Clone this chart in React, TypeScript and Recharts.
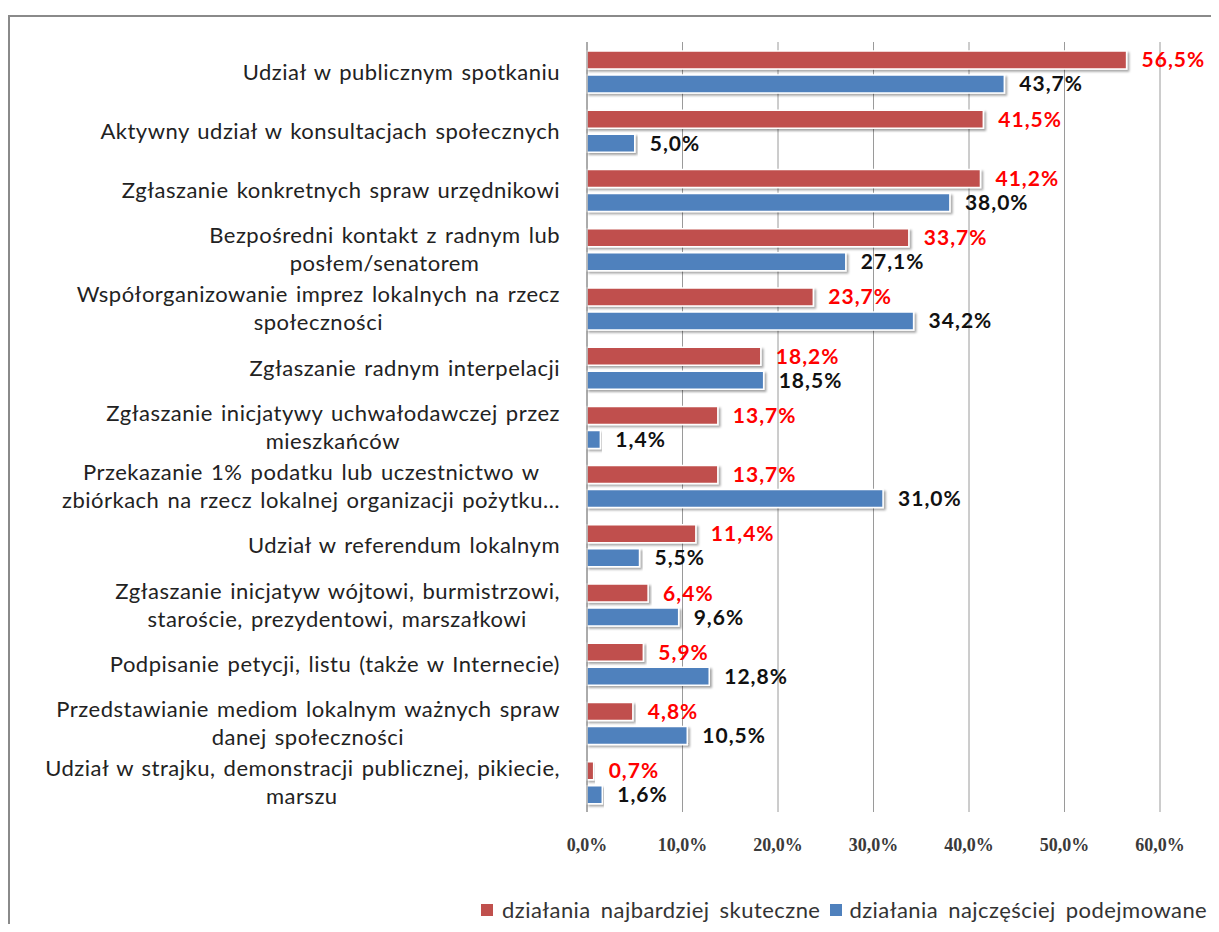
import React from 'react';
import { BarChart, Bar, XAxis, YAxis, CartesianGrid, LabelList } from 'recharts';

// categories, top to bottom ("\n" marks the wrapped line)
const categories = [
  'Udział w publicznym spotkaniu',
  'Aktywny udział w konsultacjach społecznych',
  'Zgłaszanie konkretnych spraw urzędnikowi',
  'Bezpośredni kontakt z radnym lub\nposłem/senatorem',
  'Współorganizowanie imprez lokalnych na rzecz\nspołeczności',
  'Zgłaszanie radnym interpelacji',
  'Zgłaszanie inicjatywy uchwałodawczej przez\nmieszkańców',
  'Przekazanie 1% podatku lub uczestnictwo w\nzbiórkach na rzecz lokalnej organizacji pożytku…',
  'Udział w referendum lokalnym',
  'Zgłaszanie inicjatyw wójtowi, burmistrzowi,\nstaroście, prezydentowi, marszałkowi',
  'Podpisanie petycji, listu (także w Internecie)',
  'Przedstawianie mediom lokalnym ważnych spraw\ndanej społeczności',
  'Udział w strajku, demonstracji publicznej, pikiecie,\nmarszu',
];

const skuteczne = [56.5, 41.5, 41.2, 33.7, 23.7, 18.2, 13.7, 13.7, 11.4, 6.4, 5.9, 4.8, 0.7];
const podejmowane = [43.7, 5.0, 38.0, 27.1, 34.2, 18.5, 1.4, 31.0, 5.5, 9.6, 12.8, 10.5, 1.6];
const xTicks = [0, 10, 20, 30, 40, 50, 60];

const seriesNames = ['działania najbardziej skuteczne', 'działania najczęściej podejmowane'];
const RED = '#C0504D';
const BLUE = '#4F81BD';

const data = categories.map((name, i) => ({
  name,
  skuteczne: skuteczne[i],
  podejmowane: podejmowane[i],
}));

const pct = (v: any) => Number(v).toFixed(1).replace('.', ',') + '%';

const CAT_FONT_SIZE = 22;
const CAT_LETTER = 0.5;
const CAT_WORD = 2;
let ctx: CanvasRenderingContext2D | null = null;
const measure = (s: string) => {
  if (!ctx) ctx = document.createElement('canvas').getContext('2d');
  const spaces = (s.match(/ /g) || []).length;
  const extra = s.length * CAT_LETTER + spaces * CAT_WORD;
  if (!ctx) return s.length * 11 + extra;
  ctx.font = `${CAT_FONT_SIZE}px Lato`;
  return ctx.measureText(s).width + extra;
};

const LABEL_RIGHT = 552;

const CategoryTick = ({ y, payload }: any) => {
  const lines = String(payload.value).split('\n');
  const widths = lines.map(measure);
  const maxW = Math.max(...widths);
  const lh = 28;
  const top = y - ((lines.length - 1) * lh) / 2;
  return (
    <g>
      {lines.map((l, i) => (
        <text
          key={i}
          x={LABEL_RIGHT - (maxW - widths[i]) / 2}
          y={top + i * lh}
          dy="0.36em"
          textAnchor="end"
          fontFamily="Lato"
          fontSize={CAT_FONT_SIZE}
          letterSpacing={CAT_LETTER}
          wordSpacing={CAT_WORD}
          fill="#222"
        >
          {l}
        </text>
      ))}
    </g>
  );
};

const ValueTick = ({ x, y, payload }: any) => (
  <text x={x} y={y + 31} textAnchor="middle" fontFamily="Liberation Serif" fontWeight="bold" fontSize={18} fill="#3a3a3a">
    {pct(payload.value)}
  </text>
);

export default function App() {
  return (
    <div style={{ position: 'relative', width: 1211, height: 916, overflow: 'hidden', background: '#fff' }}>
      <div
        style={{
          position: 'absolute',
          left: 0,
          top: 7,
          width: 1210,
          height: 940,
          borderLeft: '2px solid #8a8a8a',
          borderTop: '2px solid #8a8a8a',
          borderRight: '2px solid #8a8a8a',
          boxSizing: 'border-box',
        }}
      />
      <div style={{ position: 'absolute', left: 0, top: 0 }}>
        <BarChart
          width={1211}
          height={916}
          data={data}
          layout="vertical"
          margin={{ top: 34, right: 59, left: 0, bottom: 0 }}
          barSize={18}
          barGap={6}
        >
          <defs>
            <filter id="barShadow" x="-5%" y="-30%" width="110%" height="170%">
              <feDropShadow dx="2" dy="2" stdDeviation="1.2" floodColor="#000" floodOpacity="0.35" />
            </filter>
          </defs>
          <CartesianGrid horizontal={false} stroke="#9a9a9a" />
          <XAxis
            type="number"
            domain={[0, 60]}
            ticks={xTicks}
            axisLine={false}
            tickLine={false}
            height={112}
            tick={<ValueTick />}
          />
          <YAxis
            type="category"
            dataKey="name"
            width={579}
            axisLine={{ stroke: '#8a8a8a' }}
            tickLine={false}
            interval={0}
            tick={<CategoryTick />}
          />
          <Bar dataKey="skuteczne" name={seriesNames[0]} fill={RED} stroke="#fff" strokeWidth={1.5} filter="url(#barShadow)" isAnimationActive={false}>
            <LabelList dataKey="skuteczne" position="right" offset={15} formatter={pct} fill="#FF0000" fontFamily="Lato" fontWeight="bold" fontSize={21} letterSpacing={1} />
          </Bar>
          <Bar dataKey="podejmowane" name={seriesNames[1]} fill={BLUE} stroke="#fff" strokeWidth={1.5} filter="url(#barShadow)" isAnimationActive={false}>
            <LabelList dataKey="podejmowane" position="right" offset={15} formatter={pct} fill="#111" fontFamily="Lato" fontWeight="bold" fontSize={21} letterSpacing={1} />
          </Bar>
        </BarChart>
      </div>
      <div
        style={{
          position: 'absolute',
          left: 473,
          top: 888,
          display: 'flex',
          alignItems: 'center',
          fontFamily: 'Lato',
          fontSize: 22,
          letterSpacing: 0.45,
          wordSpacing: 4,
          color: '#333',
          whiteSpace: 'nowrap',
        }}
      >
        <span style={{ width: 12, height: 12, background: RED, display: 'inline-block', marginRight: 9 }} />
        <span style={{ marginRight: 10 }}>{seriesNames[0]}</span>
        <span style={{ width: 12, height: 12, background: BLUE, display: 'inline-block', marginRight: 7 }} />
        <span>{seriesNames[1]}</span>
      </div>
    </div>
  );
}
